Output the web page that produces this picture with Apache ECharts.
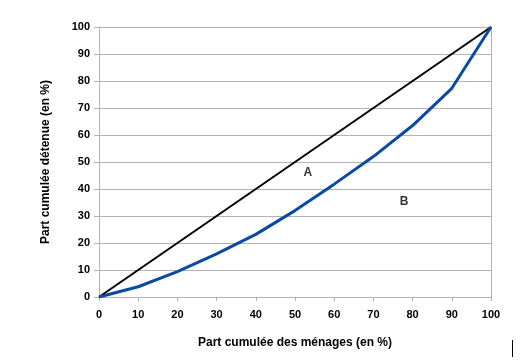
<!DOCTYPE html>
<html><head><meta charset="utf-8">
<script src="https://cdn.jsdelivr.net/npm/echarts@6/dist/echarts.min.js"></script>
<style>html,body{margin:0;padding:0;background:#fff}#c{width:527px;height:364px}</style>
</head><body><div id="c"></div>
<script>
const xTitle = 'Part cumulée des ménages (en %)';
const yTitle = 'Part cumulée détenue (en %)';
const lorenzX = [0, 10, 20, 30, 40, 50, 60, 70, 80, 90, 100];
const lorenzY = [0, 3.8, 9.4, 16, 23.2, 32, 41.8, 52, 63.5, 77.3, 100];
const equalityX = [0, 100];
const equalityY = [0, 100];
const areaLabels = [{name: 'A', x: 53.3, y: 46}, {name: 'B', x: 77.8, y: 35.2}];

const font = 'Arial, "Liberation Sans", sans-serif';
const chart = echarts.init(document.getElementById('c'), null, {renderer: 'canvas'});
chart.setOption({
  animation: false,
  backgroundColor: '#fff',
  grid: {left: 99, right: 36, top: 27, bottom: 67},
  xAxis: {
    type: 'value', min: 0, max: 100, interval: 10,
    name: xTitle, nameLocation: 'middle', nameGap: 40,
    nameTextStyle: {fontFamily: font, fontWeight: 'bold', fontSize: 12, color: '#000'},
    axisLine: {show: true, lineStyle: {color: '#b3b3b3', width: 1}},
    axisTick: {show: true, length: 4, lineStyle: {color: '#b3b3b3'}},
    axisLabel: {fontFamily: font, fontWeight: 'bold', fontSize: 11, color: '#000', margin: 12},
    splitLine: {show: false}
  },
  yAxis: [{
    type: 'value', min: 0, max: 100, interval: 10,
    name: yTitle, nameLocation: 'middle', nameGap: 47,
    nameTextStyle: {fontFamily: font, fontWeight: 'bold', fontSize: 12, color: '#000'},
    axisLine: {show: true, lineStyle: {color: '#b3b3b3', width: 1}},
    axisTick: {show: true, length: 5, lineStyle: {color: '#b3b3b3'}},
    axisLabel: {fontFamily: font, fontWeight: 'bold', fontSize: 11, color: '#000', margin: 9},
    splitLine: {show: true, lineStyle: {color: '#b3b3b3', width: 1}}
  }, {
    type: 'value', min: 0, max: 100, position: 'right',
    axisLine: {show: true, lineStyle: {color: '#b3b3b3', width: 1}},
    axisTick: {show: false}, axisLabel: {show: false}, splitLine: {show: false}
  }],
  series: [{
    type: 'line', name: 'Égalité',
    data: equalityX.map((x, i) => [x, equalityY[i]]),
    symbol: 'none', lineStyle: {color: '#000', width: 2}, z: 3
  }, {
    type: 'line', name: 'Lorenz',
    data: lorenzX.map((x, i) => [x, lorenzY[i]]),
    symbol: 'none', lineStyle: {color: '#0a4aa3', width: 3}, z: 4
  }, {
    type: 'scatter', name: 'labels',
    data: areaLabels.map(d => ({value: [d.x, d.y], name: d.name})),
    symbolSize: 0,
    label: {show: true, position: 'inside', formatter: p => p.name,
      fontFamily: font, fontWeight: 'bold', fontSize: 12, color: '#000'},
    z: 5
  }],
  graphic: [{
    type: 'line', shape: {x1: 512.5, y1: 340, x2: 512.5, y2: 357},
    style: {stroke: '#000', lineWidth: 1}
  }]
});
</script></body></html>
